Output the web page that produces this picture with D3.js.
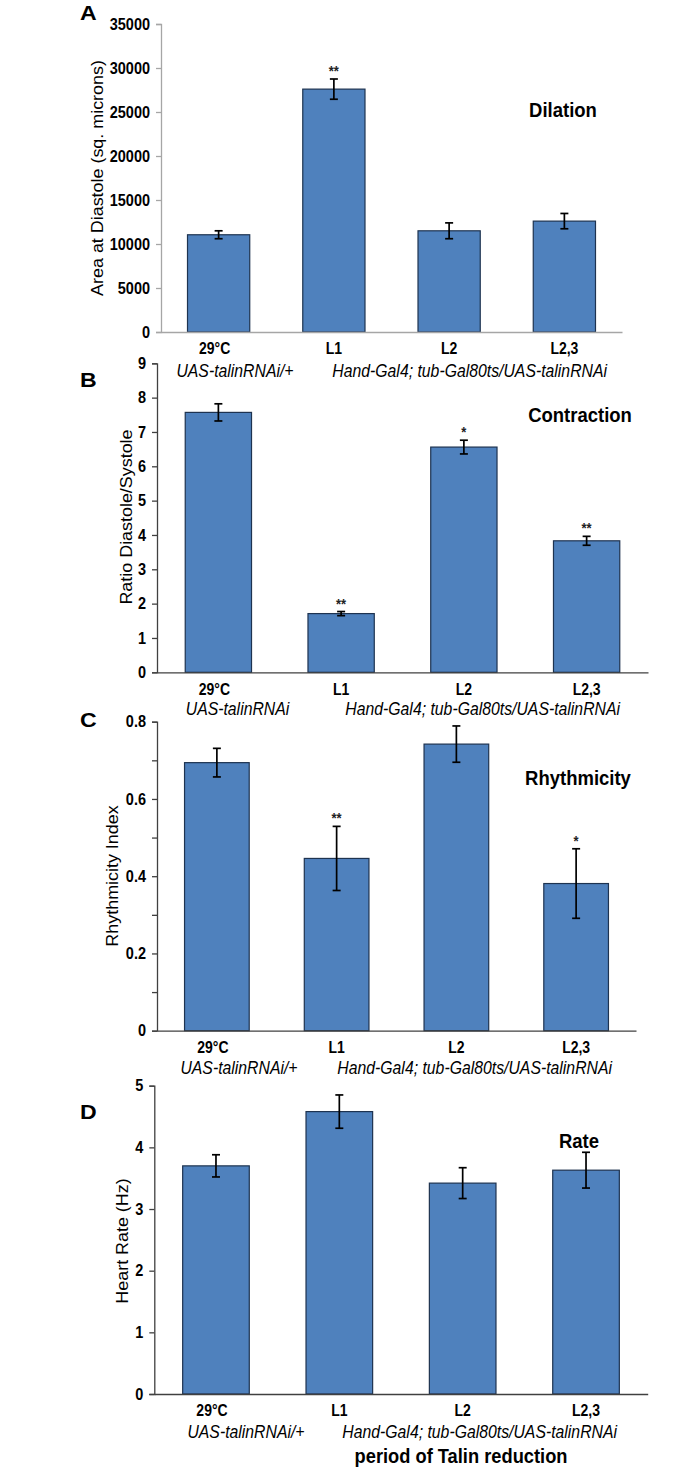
<!DOCTYPE html>
<html><head><meta charset="utf-8">
<script src="https://cdn.jsdelivr.net/npm/d3@7"></script>
<style>body{margin:0;background:#fff}svg{display:block}text{font-family:"Liberation Sans",Arial,sans-serif;fill:#000}</style>
</head><body>
<svg id="c" width="700" height="1469"></svg>
<script>
// ---------- data ----------
const categories = ["29°C", "L1", "L2", "L2,3"];
const dilationValues = [11050, 27600, 11500, 12600];
const dilationErrors = [450, 1150, 900, 870];
const dilationSig = ["", "**", "", ""];
const contractionValues = [7.57, 1.71, 6.56, 3.83];
const contractionErrors = [0.25, 0.06, 0.2, 0.13];
const contractionSig = ["", "**", "*", "**"];
const rhythmValues = [0.694, 0.446, 0.742, 0.381];
const rhythmErrors = [0.037, 0.083, 0.047, 0.09];
const rhythmSig = ["", "**", "", "*"];
const rateValues = [3.70, 4.58, 3.42, 3.63];
const rateErrors = [0.18, 0.27, 0.25, 0.29];
const rateSig = ["", "", "", ""];
const dilationTicks = [0, 5000, 10000, 15000, 20000, 25000, 30000, 35000];
const contractionTicks = [0, 1, 2, 3, 4, 5, 6, 7, 8, 9];
const rhythmTicks = [0, 0.1, 0.2, 0.3, 0.4, 0.5, 0.6, 0.7, 0.8];
const rhythmTickLabels = ["0", "", "0.2", "", "0.4", "", "0.6", "", "0.8"];
const rateTicks = [0, 1, 2, 3, 4, 5];
const genotypeControl = ["UAS-talinRNAi/+", "UAS-talinRNAi", "UAS-talinRNAi/+", "UAS-talinRNAi/+"];
const genotypeExp = "Hand-Gal4; tub-Gal80ts/UAS-talinRNAi";
const panelLetters = ["A", "B", "C", "D"];
const panelTitles = ["Dilation", "Contraction", "Rhythmicity", "Rate"];
const yTitles = ["Area at Diastole (sq. microns)", "Ratio Diastole/Systole", "Rhythmicity Index", "Heart Rate (Hz)"];
const xTitle = "period of Talin reduction";

// ---------- layout ----------
const S = 1.12; // vertical text stretch of the original figure
const svg = d3.select("#c");
const panels = [
  {values: dilationValues, errors: dilationErrors, sig: dilationSig, ticks: dilationTicks, labels: dilationTicks.map(String), max: 35000,
   x0: 161, x1: 622, yT: 24, yB: 332, axisColor: "#a6a6a6",
   letterY: 20, titleX: 563, titleY: 117, ytX: 97, ytY: 178, catY: 354, genY: 377, genCx: 235, genEx: 607},
  {values: contractionValues, errors: contractionErrors, sig: contractionSig, ticks: contractionTicks, labels: contractionTicks.map(String), max: 9,
   x0: 157, x1: 648, yT: 363.3, yB: 672.3, axisColor: "#404040",
   letterY: 387, titleX: 580, titleY: 422, ytX: 126, ytY: 517, catY: 695, genY: 715, genCx: 237.5, genEx: 620},
  {values: rhythmValues, errors: rhythmErrors, sig: rhythmSig, ticks: rhythmTicks, labels: rhythmTickLabels, max: 0.8,
   x0: 157, x1: 636, yT: 721.7, yB: 1030.7, axisColor: "#404040",
   letterY: 727, titleX: 578, titleY: 785, ytX: 112, ytY: 876, catY: 1053, genY: 1074, genCx: 239, genEx: 612},
  {values: rateValues, errors: rateErrors, sig: rateSig, ticks: rateTicks, labels: rateTicks.map(String), max: 5,
   x0: 154.3, x1: 647.7, yT: 1085.7, yB: 1394, axisColor: "#404040",
   letterY: 1119, titleX: 579, titleY: 1148, ytX: 122, ytY: 1241, catY: 1416, genY: 1438, genCx: 246, genEx: 617}
];

function stretchedText(g, x, y, str, opts) {
  const t = g.append("g").attr("transform", `translate(${x},${y}) scale(1,${S})` + (opts.rotate ? " rotate(-90)" : ""))
    .append("text").text(str)
    .attr("text-anchor", opts.anchor || "middle")
    .style("font-size", opts.size + "px")
    .style("font-weight", opts.bold ? "bold" : "normal")
    .style("font-style", opts.italic ? "italic" : "normal");
  if (opts.dy) t.attr("dy", opts.dy);
  return t;
}

panels.forEach((p, i) => {
  const g = svg.append("g");
  const x = d3.scaleBand().domain(categories).range([p.x0, p.x1]).paddingInner(0.46).paddingOuter(0.23);
  const y = d3.scaleLinear().domain([0, p.max]).range([p.yB, p.yT]);

  // bars
  g.selectAll("rect.bar").data(p.values).join("rect").attr("class", "bar")
    .attr("x", (d, k) => x(categories[k]))
    .attr("width", x.bandwidth())
    .attr("y", d => y(d))
    .attr("height", d => y(0) - y(d))
    .attr("fill", "#4f81bd").attr("stroke", "#1e3350").attr("stroke-width", 1.2);

  // y axis
  const ya = g.append("g").attr("transform", `translate(${p.x0},0)`)
    .call(d3.axisLeft(y).tickValues(p.ticks).tickFormat((d, k) => p.labels[k]).tickSize(5).tickPadding(6));
  ya.select(".domain").attr("stroke", p.axisColor).attr("stroke-width", 1.3);
  ya.selectAll(".tick line").attr("stroke", p.axisColor).attr("stroke-width", 1.3);
  ya.selectAll(".tick text").style("font-size", "14.5px").style("font-weight", "bold")
    .style("font-family", '"Liberation Sans",Arial,sans-serif').attr("fill", "#000")
    .attr("transform", `scale(1,${S})`);

  // x axis line
  const xa = g.append("g").attr("transform", `translate(0,${p.yB})`)
    .call(d3.axisBottom(x).tickSize(0).tickFormat(""));
  xa.select(".domain").attr("stroke", p.axisColor).attr("stroke-width", 1.3);

  // error bars
  const eb = g.append("g").attr("stroke", "#000").attr("stroke-width", 1.7);
  p.values.forEach((v, k) => {
    const cx = x(categories[k]) + x.bandwidth() / 2;
    const top = y(v + p.errors[k]), bot = y(v - p.errors[k]);
    eb.append("line").attr("x1", cx).attr("x2", cx).attr("y1", top).attr("y2", bot);
    eb.append("line").attr("x1", cx - 4).attr("x2", cx + 4).attr("y1", top).attr("y2", top);
    eb.append("line").attr("x1", cx - 4).attr("x2", cx + 4).attr("y1", bot).attr("y2", bot);
    if (p.sig[k]) stretchedText(g, cx, top - 3, p.sig[k], {size: 13, bold: true}).style("fill", "#222");
  });

  // category labels
  categories.forEach((c, k) => {
    stretchedText(g, x(c) + x.bandwidth() / 2 - (k === 0 ? 4 : 0), p.catY, c, {size: 14, bold: true});
  });

  // genotype labels
  stretchedText(g, p.genCx, p.genY, genotypeControl[i], {size: 15.8, italic: true});
  stretchedText(g, p.genEx, p.genY, genotypeExp, {size: 15.8, italic: true, anchor: "end"});

  // titles
  stretchedText(g, p.titleX, p.titleY, panelTitles[i], {size: 18.5, bold: true});
  stretchedText(g, p.ytX, p.ytY, yTitles[i], {size: 16, rotate: true, dy: "0.35em"});
  g.append("g").attr("transform", `translate(80,${p.letterY}) scale(1.1,1)`)
    .append("text").text(panelLetters[i]).attr("text-anchor", "start")
    .style("font-size", "21px").style("font-weight", "bold");
});

stretchedText(svg, 461, 1463, xTitle, {size: 18.3, bold: true});
</script>
</body></html>
